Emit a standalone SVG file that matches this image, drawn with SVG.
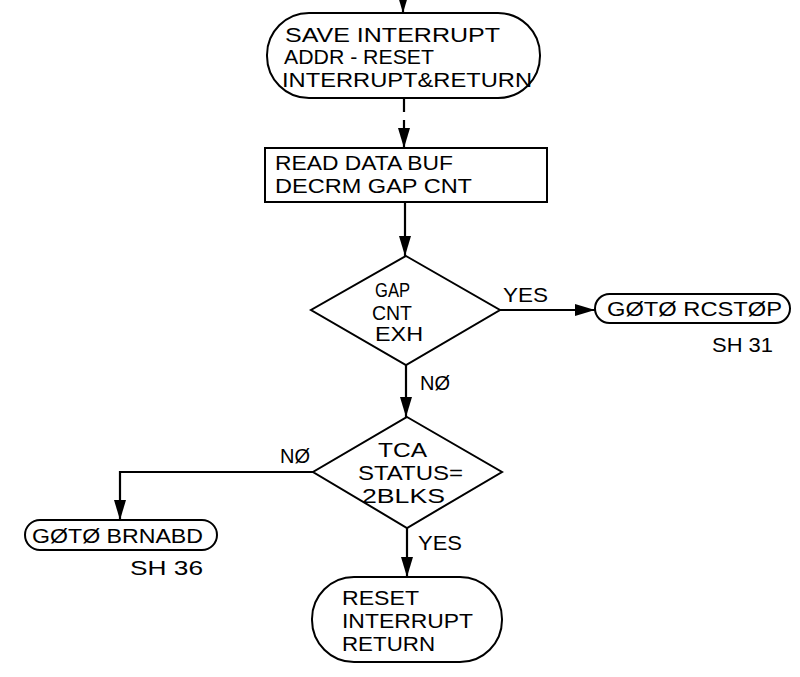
<svg xmlns="http://www.w3.org/2000/svg" width="800" height="677" viewBox="0 0 800 677">
<defs>
<marker id="arr" markerUnits="userSpaceOnUse" viewBox="0 0 20 12" markerWidth="20" markerHeight="12" refX="20" refY="6" orient="auto">
<path d="M0,0 L20,6 L0,12 z" fill="#000"/>
</marker>
<style>
.s{fill:#fff;stroke:#000;stroke-width:2}
.c{fill:none;stroke:#000;stroke-width:2.2}
text{font-family:"Liberation Sans","DejaVu Sans",sans-serif;font-size:21px;fill:#000}
</style>
</defs>
<rect width="800" height="677" fill="#fff"/>
<g id="connectors">
<path class="c" d="M403,0 V13" marker-end="url(#arr)"/>
<path class="c" d="M404,98 V112 M404,120 V148" marker-end="url(#arr)"/>
<path class="c" d="M405,202 V256" marker-end="url(#arr)"/>
<path class="c" d="M500,310 H595" marker-end="url(#arr)"/>
<path class="c" d="M406,365 V417" marker-end="url(#arr)"/>
<path class="c" d="M313,472 H120 V520" marker-end="url(#arr)"/>
<path class="c" d="M407,528 V577" marker-end="url(#arr)"/>
<text x="503" y="302" textLength="45" lengthAdjust="spacingAndGlyphs">YES</text>
<text x="420" y="390" textLength="30" lengthAdjust="spacingAndGlyphs">NØ</text>
<text x="280" y="463" textLength="30" lengthAdjust="spacingAndGlyphs">NØ</text>
<text x="418" y="550" textLength="44" lengthAdjust="spacingAndGlyphs">YES</text>
</g>
<g id="save">
<rect class="s" x="267" y="13" width="273" height="85" rx="42" ry="42"/>
<text x="285" y="42" textLength="215" lengthAdjust="spacingAndGlyphs">SAVE INTERRUPT</text>
<text x="284" y="64" textLength="150" lengthAdjust="spacingAndGlyphs">ADDR - RESET</text>
<text x="282" y="87" textLength="250" lengthAdjust="spacingAndGlyphs">INTERRUPT&amp;RETURN</text>
</g>
<g id="read">
<rect class="s" x="265" y="148" width="282" height="54"/>
<text x="275" y="170" textLength="178" lengthAdjust="spacingAndGlyphs">READ DATA BUF</text>
<text x="275" y="193" textLength="197" lengthAdjust="spacingAndGlyphs">DECRM GAP CNT</text>
</g>
<g id="gap">
<polygon class="s" points="406,256 500,310 406,365 311,310"/>
<text x="375" y="297" textLength="35" lengthAdjust="spacingAndGlyphs">GAP</text>
<text x="372" y="320" textLength="40" lengthAdjust="spacingAndGlyphs">CNT</text>
<text x="375" y="341" textLength="48" lengthAdjust="spacingAndGlyphs">EXH</text>
</g>
<g id="rcstop">
<rect class="s" x="595" y="294" width="195" height="29" rx="14.5" ry="14.5"/>
<text x="607" y="316" textLength="175" lengthAdjust="spacingAndGlyphs">GØTØ RCSTØP</text>
<text x="712" y="352" textLength="61" lengthAdjust="spacingAndGlyphs">SH 31</text>
</g>
<g id="tca">
<polygon class="s" points="407,417 502,472 407,528 313,472"/>
<text x="378" y="457" textLength="49" lengthAdjust="spacingAndGlyphs">TCA</text>
<text x="358" y="480" textLength="105" lengthAdjust="spacingAndGlyphs">STATUS=</text>
<text x="362" y="503" textLength="83" lengthAdjust="spacingAndGlyphs">2BLKS</text>
</g>
<g id="brnabd">
<rect class="s" x="25" y="520" width="192" height="30" rx="15" ry="15"/>
<text x="32" y="543" textLength="171" lengthAdjust="spacingAndGlyphs">GØTØ BRNABD</text>
<text x="130" y="575" textLength="73" lengthAdjust="spacingAndGlyphs">SH 36</text>
</g>
<g id="reset">
<rect class="s" x="312" y="577" width="190" height="85" rx="42" ry="42"/>
<text x="342" y="605" textLength="77" lengthAdjust="spacingAndGlyphs">RESET</text>
<text x="342" y="628" textLength="131" lengthAdjust="spacingAndGlyphs">INTERRUPT</text>
<text x="342" y="651" textLength="93" lengthAdjust="spacingAndGlyphs">RETURN</text>
</g>
</svg>
